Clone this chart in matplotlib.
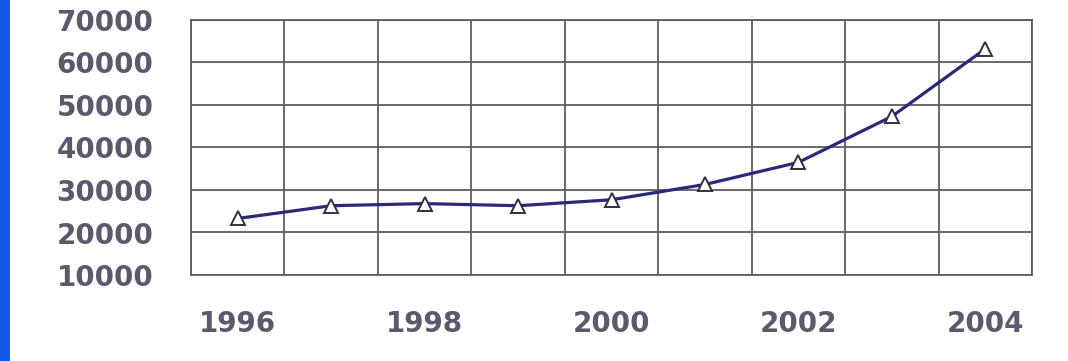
import numpy as np
import matplotlib.pyplot as plt
from matplotlib.patches import Rectangle

# data
years = [1996, 1997, 1998, 1999, 2000, 2001, 2002, 2003, 2004]
values = [23300, 26300, 26800, 26300, 27700, 31300, 36500, 47300, 63200]
y_ticks = [10000, 20000, 30000, 40000, 50000, 60000, 70000]
x_labels = ['1996', '', '1998', '', '2000', '', '2002', '', '2004']

text_color = '#5a5a6c'
line_color = '#2a2a7c'
grid_color = '#5e5e5e'

fig = plt.figure(figsize=(10.68, 3.61), dpi=100)
fig.patch.set_facecolor('white')
ax = fig.add_axes([191 / 1068, 86 / 361, 841 / 1068, 255 / 361])

x = np.arange(len(years))
ax.plot(x, values, color=line_color, linewidth=2.3, marker='^',
        markersize=10, markerfacecolor='white', markeredgecolor='#303040',
        markeredgewidth=1.4, zorder=3)

ax.set_xlim(-0.5, len(years) - 0.5)
ax.set_ylim(10000, 70000)
ax.set_yticks(y_ticks)
ax.set_yticklabels([str(v) for v in y_ticks])
ax.set_xticks(x)
ax.set_xticklabels(x_labels)
ax.set_xticks(np.arange(-0.5, len(years), 1.0), minor=True)

ax.grid(True, axis='y', which='major', color=grid_color, linewidth=1.3)
ax.grid(True, axis='x', which='minor', color=grid_color, linewidth=1.3)
ax.grid(False, axis='x', which='major')
ax.tick_params(axis='both', which='both', length=0)
ax.tick_params(axis='y', pad=27)
ax.tick_params(axis='x', pad=25)
for lab in ax.get_xticklabels() + ax.get_yticklabels():
    lab.set_fontsize(20)
    lab.set_fontweight('bold')
    lab.set_color(text_color)
for s in ax.spines.values():
    s.set_color(grid_color)
    s.set_linewidth(1.3)

# blue stripe on the left edge
fig.patches.append(Rectangle((0, 0), 10 / 1068, 1, transform=fig.transFigure,
                             facecolor='#1458e6', edgecolor='none'))

fig.savefig('out.png', dpi=100)
